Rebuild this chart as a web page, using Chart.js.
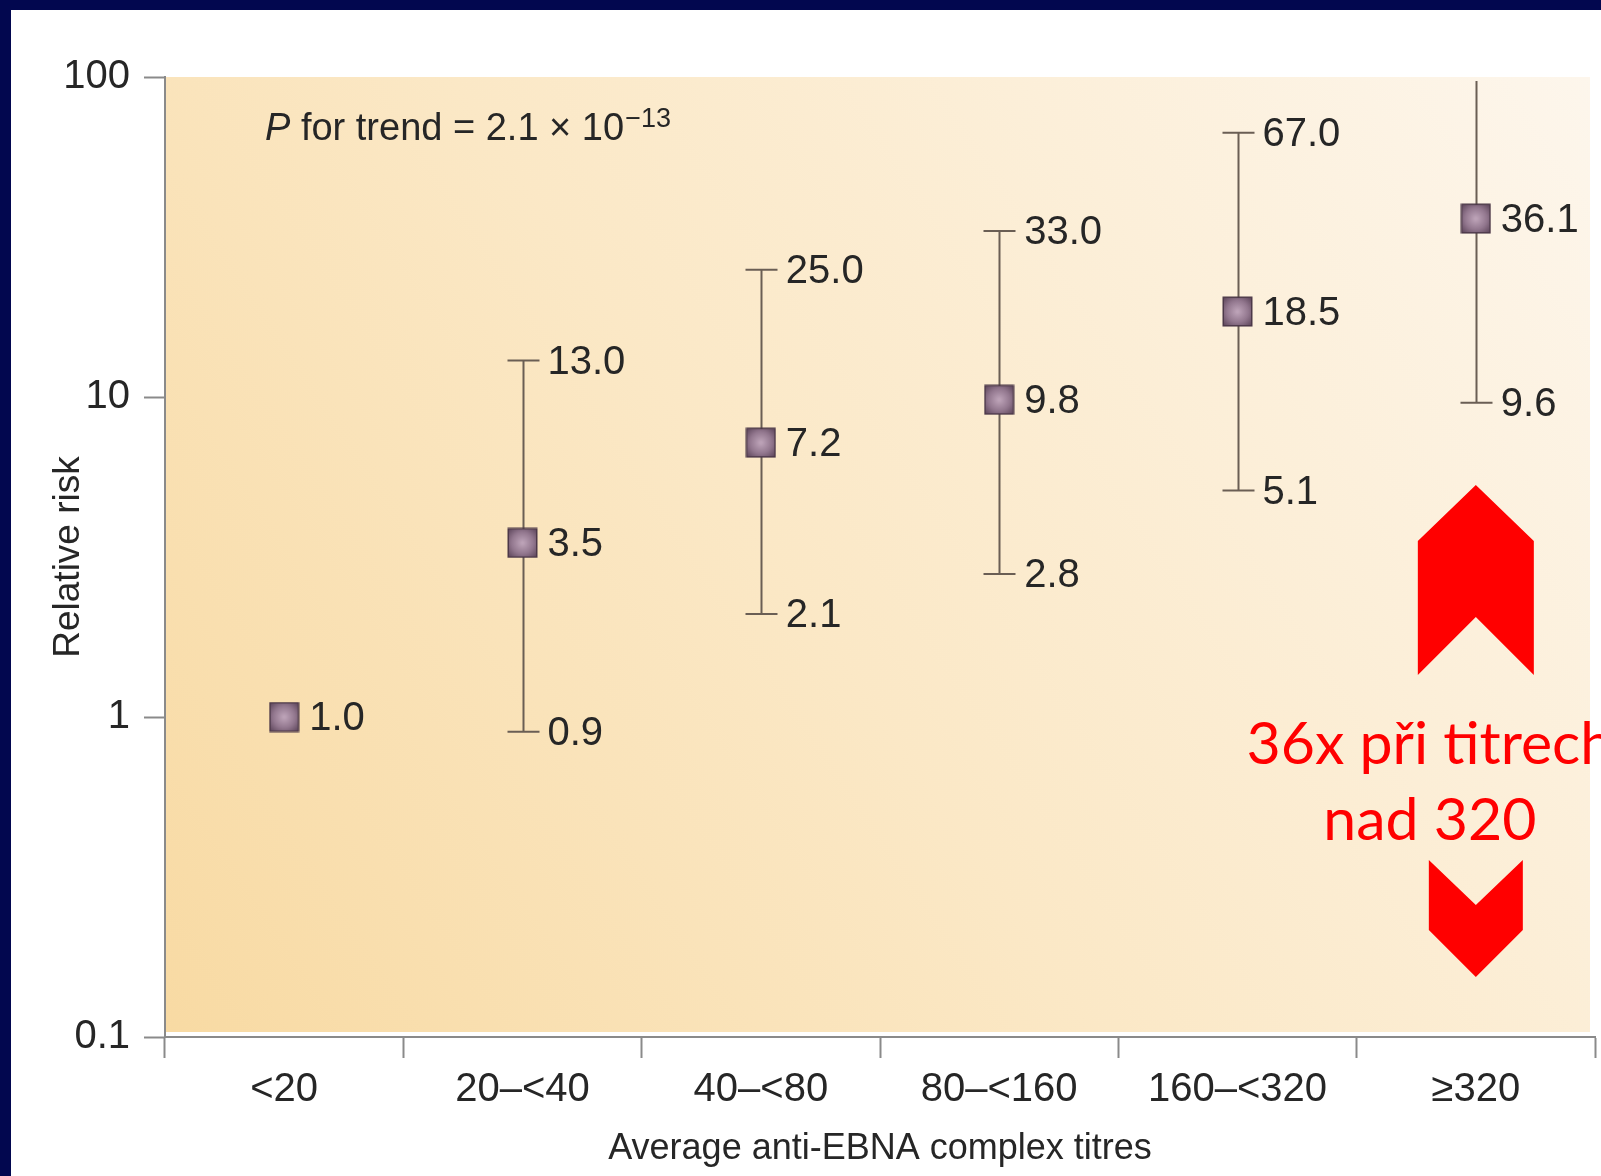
<!DOCTYPE html>
<html>
<head>
<meta charset="utf-8">
<script src="https://cdn.jsdelivr.net/npm/chart.js@4.4.0/dist/chart.umd.min.js"></script>
<style>
  html, body { margin: 0; padding: 0; width: 1601px; height: 1176px; overflow: hidden; background: #02074f; }
  #wrap { position: absolute; left: 11px; top: 10px; width: 1590px; height: 1166px; background: #ffffff; }
  canvas { display: block; }
</style>
</head>
<body>
<div id="wrap"><canvas id="c" width="1590" height="1166"></canvas></div>
<script>
// ---- data ----
const categories = ['<20', '20\u2013<40', '40\u2013<80', '80\u2013<160', '160\u2013<320', '\u2265320'];
const relativeRisk = [1.0, 3.5, 7.2, 9.8, 18.5, 36.1];
const ciLower = [null, 0.9, 2.1, 2.8, 5.1, 9.6];
const ciUpper = [null, 13.0, 25.0, 33.0, 67.0, 136.0];
const yTickValues = [0.1, 1, 10, 100];
const yTickLabels = ['0.1', '1', '10', '100'];
const trendText = 'P for trend = 2.1 \u00d7 10\u221213';
const annotationLines = ['36x p\u0159i titrech', 'nad 320'];

const FONT = "'Liberation Sans', Arial, Helvetica, sans-serif";
const TEXT = '#262626';
const AXIS = '#8a8a8a';
const WHISK = '#6a5e54';

// square marker image
function makeMarker(size) {
  const c = document.createElement('canvas');
  c.width = size; c.height = size;
  const g = c.getContext('2d');
  const grd = g.createRadialGradient(size/2, size/2, 1, size/2, size/2, size*0.62);
  grd.addColorStop(0, '#bca2b7');
  grd.addColorStop(0.55, '#92778e');
  grd.addColorStop(1, '#5f475c');
  g.fillStyle = grd;
  g.fillRect(1, 1, size-2, size-2);
  g.strokeStyle = '#4c3849';
  g.lineWidth = 1.5;
  g.strokeRect(1.25, 1.25, size-2.5, size-2.5);
  return c;
}
const marker = makeMarker(31);

function fmt(v) { return v.toFixed(1); }

const bgPlugin = {
  id: 'bg',
  beforeDraw(chart) {
    const {ctx, chartArea: a} = chart;
    const grd = ctx.createLinearGradient(a.left, a.bottom, a.right, a.top);
    grd.addColorStop(0, '#f8daa3');
    grd.addColorStop(0.45, '#fbe8c6');
    grd.addColorStop(1, '#fdf6ec');
    ctx.save();
    ctx.fillStyle = grd;
    ctx.fillRect(a.left + 1, a.top, a.right - a.left - 6, a.bottom - a.top - 5);
    ctx.restore();
  }
};

const errPlugin = {
  id: 'errbars',
  beforeDatasetsDraw(chart) {
    const {ctx, chartArea: a} = chart;
    const xs = chart.scales.x, ys = chart.scales.y;
    ctx.save();
    ctx.strokeStyle = WHISK;
    ctx.lineWidth = 2;
    for (let i = 0; i < categories.length; i++) {
      if (ciLower[i] == null || ciUpper[i] == null) continue;
      const x = Math.round(xs.getPixelForValue(i)) + 0.5;
      const clipped = ciUpper[i] > ys.max;
      const yTop = clipped ? a.top + 4 : ys.getPixelForValue(ciUpper[i]);
      const yBot = ys.getPixelForValue(ciLower[i]);
      ctx.beginPath();
      ctx.moveTo(x, yTop); ctx.lineTo(x, yBot);
      if (!clipped) { ctx.moveTo(x - 16, yTop); ctx.lineTo(x + 16, yTop); }
      ctx.moveTo(x - 16, yBot); ctx.lineTo(x + 16, yBot);
      ctx.stroke();
    }
    ctx.restore();
  },
  afterDatasetsDraw(chart) {
    const {ctx, chartArea: a} = chart;
    const xs = chart.scales.x, ys = chart.scales.y;
    ctx.save();
    ctx.fillStyle = TEXT;
    ctx.font = '40px ' + FONT;
    ctx.textAlign = 'left';
    ctx.textBaseline = 'middle';
    for (let i = 0; i < categories.length; i++) {
      const x = xs.getPixelForValue(i);
      ctx.fillText(fmt(relativeRisk[i]), x + 25, ys.getPixelForValue(relativeRisk[i]) + 2);
      if (ciUpper[i] != null && ciUpper[i] <= ys.max) ctx.fillText(fmt(ciUpper[i]), x + 25, ys.getPixelForValue(ciUpper[i]) + 2);
      if (ciLower[i] != null) ctx.fillText(fmt(ciLower[i]), x + 25, ys.getPixelForValue(ciLower[i]) + 2);
    }
    // P for trend
    const parts = trendText.split('10');
    const tx = a.left + 100, ty = a.top + 63;
    ctx.textBaseline = 'alphabetic';
    ctx.font = 'italic 38px ' + FONT;
    ctx.fillText('P', tx, ty);
    let w = ctx.measureText('P').width;
    ctx.font = '38px ' + FONT;
    const main = parts[0].slice(1) + '10';
    ctx.fillText(main, tx + w, ty);
    w += ctx.measureText(main).width;
    ctx.font = '27px ' + FONT;
    ctx.fillText(parts[1], tx + w + 1, ty - 13);

    // red chevrons
    const cx = xs.getPixelForValue(categories.length - 1);
    const T = a.top;
    ctx.fillStyle = '#ff0000';
    ctx.beginPath();
    ctx.moveTo(cx, T + 408);
    ctx.lineTo(cx + 58, T + 464);
    ctx.lineTo(cx + 58, T + 598);
    ctx.lineTo(cx, T + 540);
    ctx.lineTo(cx - 58, T + 598);
    ctx.lineTo(cx - 58, T + 464);
    ctx.closePath();
    ctx.fill();
    ctx.beginPath();
    ctx.moveTo(cx - 47, T + 783);
    ctx.lineTo(cx, T + 828);
    ctx.lineTo(cx + 47, T + 783);
    ctx.lineTo(cx + 47, T + 853);
    ctx.lineTo(cx, T + 900);
    ctx.lineTo(cx - 47, T + 853);
    ctx.closePath();
    ctx.fill();

    ctx.font = '59px Lato, "Open Sans", sans-serif';
    ctx.textAlign = 'center';
    ctx.textBaseline = 'alphabetic';
    ctx.fillText(annotationLines[0], cx - 46, T + 687);
    ctx.fillText(annotationLines[1], cx - 46, T + 763);
    ctx.restore();
  }
};

new Chart(document.getElementById('c'), {
  type: 'line',
  data: {
    labels: categories,
    datasets: [{
      data: relativeRisk,
      showLine: false,
      pointStyle: marker,
      pointRadius: 15,
      pointHoverRadius: 15
    }]
  },
  options: {
    responsive: false,
    devicePixelRatio: 1,
    animation: false,
    events: [],
    layout: { autoPadding: false, padding: { left: 0, top: 67, right: 6, bottom: 0 } },
    plugins: { legend: { display: false }, tooltip: { enabled: false } },
    scales: {
      x: {
        type: 'category',
        offset: true,
        grid: { offset: true, drawOnChartArea: false, drawTicks: true, tickLength: 21, color: AXIS, tickWidth: 2 },
        border: { display: true, color: AXIS, width: 2 },
        ticks: { color: TEXT, font: { family: FONT, size: 40 }, padding: 8, maxRotation: 0, autoSkip: false },
        title: { display: true, text: 'Average anti-EBNA complex titres', color: TEXT, font: { family: FONT, size: 36 }, padding: { top: 0, bottom: 5 } },
        afterFit(s) { s.height = 139; s.paddingLeft = 0; s.paddingRight = 0; }
      },
      y: {
        type: 'logarithmic',
        min: 0.1,
        max: 100,
        grid: { drawOnChartArea: false, drawTicks: true, tickLength: 21, color: AXIS, tickWidth: 2 },
        border: { display: true, color: AXIS, width: 2 },
        afterBuildTicks(s) { s.ticks = yTickValues.map(v => ({ value: v })); },
        ticks: {
          color: TEXT, font: { family: FONT, size: 40 }, padding: 14,
          callback(v) { const k = yTickValues.indexOf(v); return k >= 0 ? yTickLabels[k] : ''; }
        },
        title: { display: true, text: 'Relative risk', color: TEXT, font: { family: FONT, size: 37 }, padding: { top: 36, bottom: 0 } },
        afterFit(s) { s.width = 154; s.paddingTop = 0; s.paddingBottom = 0; }
      }
    }
  },
  plugins: [bgPlugin, errPlugin]
});
</script>
</body>
</html>
